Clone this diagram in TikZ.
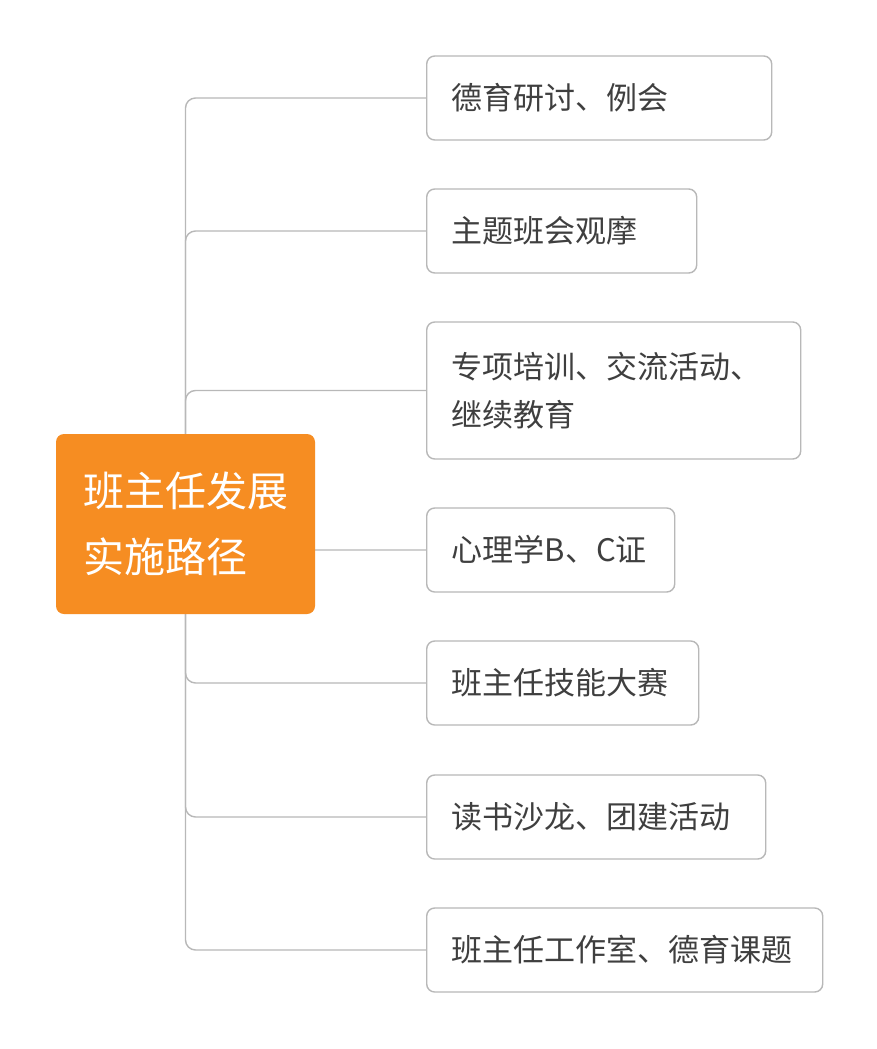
\documentclass[tikz,border=0pt]{standalone}
\usepackage{fontspec}
\newfontfamily\cjk{Noto Sans CJK SC}
\usetikzlibrary{backgrounds}
\definecolor{rootorange}{HTML}{F68D22}
\definecolor{linegray}{HTML}{B8B8B8}
\definecolor{textgray}{HTML}{3F3F3F}

\begin{document}
\begin{tikzpicture}[x=1pt, y=-1pt,
  every node/.style = {shape=rectangle, rounded corners=8pt, align=left},
  leaf/.style = {draw=linegray, line width=1.4pt, fill=white, text=textgray,
    anchor=west, inner xsep=25pt, minimum height=84pt,
    font=\cjk\fontsize{31}{48}\selectfont},
  link/.style = {draw=linegray, line width=1.4pt, rounded corners=10pt}]

  \useasboundingbox (0,0) rectangle (876,1049);

  \node[fill=rootorange, text=white, text width=205pt, inner xsep=27pt,
    minimum height=180pt, font=\cjk\fontsize{41}{66}\selectfont]
    (root) at (185.5,524) {班主任发展\\实施路径};

  \node[leaf, text width=295pt] (seminar) at (426,98) {德育研讨、例会};
  \node[leaf, text width=220pt] (meeting) at (426,231) {主题班会观摩};
  \node[leaf, text width=324pt, minimum height=137pt] (training) at (426,390.5)
    {专项培训、交流活动、\\继续教育};
  \node[leaf, text width=198pt] (psych) at (426,550) {心理学B、C证};
  \node[leaf, text width=222pt] (contest) at (426,683) {班主任技能大赛};
  \node[leaf, text width=289pt] (salon) at (426,817) {读书沙龙、团建活动};
  \node[leaf, text width=346pt] (studio) at (426,950) {班主任工作室、德育课题};

  \begin{scope}[on background layer]
    \fill[white] (0,0) rectangle (876,1049);
    \draw[link] (root.center) |- (seminar.west);
    \draw[link] (root.center) |- (meeting.west);
    \draw[link] (root.center) |- (training.west);
    \draw[link] (root.center) |- (psych.west);
    \draw[link] (root.center) |- (contest.west);
    \draw[link] (root.center) |- (salon.west);
    \draw[link] (root.center) |- (studio.west);
  \end{scope}
\end{tikzpicture}
\end{document}
